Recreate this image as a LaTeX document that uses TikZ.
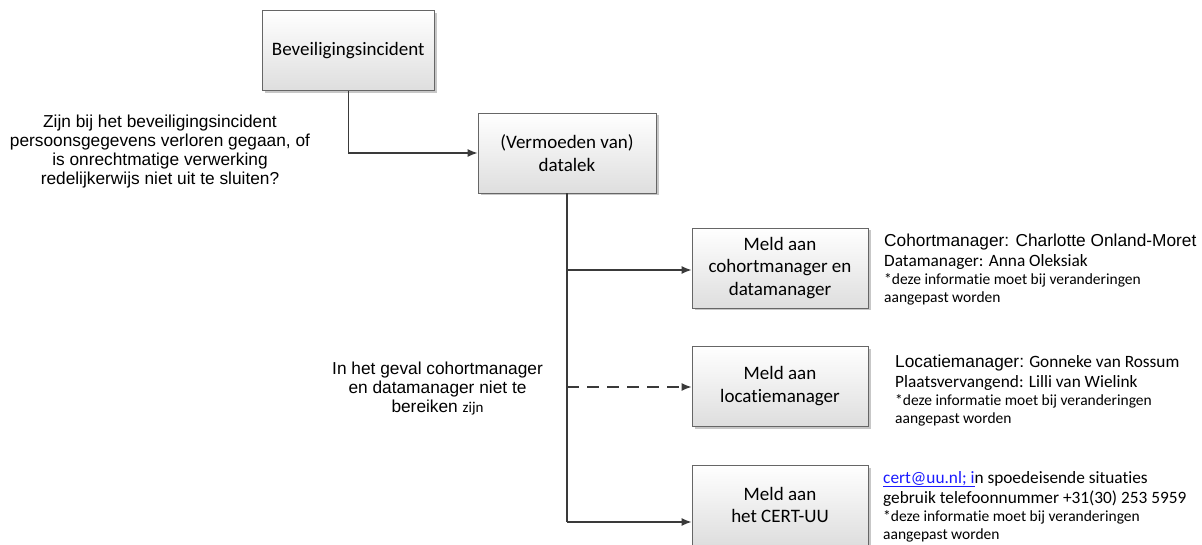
\documentclass[tikz,border=0pt]{standalone}
\usepackage{fontspec}
\setmainfont{Carlito}[Ligatures={NoCommon}]
\newfontfamily\arial{Liberation Sans}
\usetikzlibrary{shadows,arrows.meta}
\definecolor{boxline}{HTML}{666666}
\definecolor{boxbot}{HTML}{DEDEDE}
\definecolor{linkblue}{HTML}{1A1AFF}
\definecolor{connc}{HTML}{3A3A3A}
\tikzset{
  stepbox/.style={draw=boxline, line width=0.9pt, top color=white, bottom color=boxbot,
    drop shadow={shadow xshift=2.5pt, shadow yshift=-2.5pt, opacity=0.22, fill=black},
    align=center, inner sep=2pt, font=\fontsize{19}{22.5}\selectfont},
  conn/.style={draw=connc, line width=1.3pt, -{Latex[length=10pt,width=8pt]}},
  plain/.style={draw=connc, line width=1.3pt},
  qline/.style={anchor=base, inner sep=0pt, font=\arial\fontsize{17.3}{19}\selectfont},
  iline/.style={anchor=base west, inner sep=0pt, font=\fontsize{17.3}{19}\selectfont},
  sline/.style={anchor=base west, inner sep=0pt, font=\fontsize{15.5}{19}\selectfont},
}
\begin{document}
\begin{tikzpicture}[x=1pt,y=-1pt]
\useasboundingbox (0,0) rectangle (1202,545);
\node[stepbox, minimum width=172pt, minimum height=80pt] (b1) at (348.3,50.5) {Beveiligingsincident};
\node[stepbox, minimum width=178pt, minimum height=80pt] (b2) at (567,153) {(Vermoeden van)\\datalek};
\node[stepbox, minimum width=176pt, minimum height=80pt] (b3) at (780,268) {Meld aan\\cohortmanager en\\datamanager};
\node[stepbox, minimum width=176pt, minimum height=80pt] (b4) at (780,386) {Meld aan\\locatiemanager};
\node[stepbox, minimum width=176pt, minimum height=80pt] (b5) at (780,505) {Meld aan\\het CERT-UU};

\coordinate (j1) at (567,270);
\coordinate (j2) at (567,387);
\coordinate (j3) at (567,522);
\coordinate (e5) at (b5.west |- j3);

\draw[conn] (b1.south) |- (b2.west);
\draw[plain] (b2.south) -- (j3);
\draw[conn] (j1) -- (j1 -| b3.west);
\draw[conn, dash pattern=on 12pt off 8pt] (j2) -- (j2 -| b4.west);
\draw[conn] (j3) -- (e5);

\node[qline] (q1a) at (160,127.3) {Zijn bij het beveiligingsincident};
\node[qline] (q1b) at (160,146.5) {persoonsgegevens verloren gegaan, of};
\node[qline] (q1c) at (160,165.7) {is onrechtmatige verwerking};
\node[qline] (q1d) at (160,185) {redelijkerwijs niet uit te sluiten?};

\node[qline] (q2a) at (437.5,374.5) {In het geval cohortmanager};
\node[qline] (q2b) at (437.5,393.5) {en datamanager niet te};
\node[qline] (q2c) at (437.5,412.5) {bereiken {\rmfamily\fontsize{15}{19}\selectfont zijn}};

\node[iline] (c1) at (884,247) {\arial Cohortmanager: Charlotte Onland-Moret};
\node[iline] (c2) at (884,267) {Datamanager: Anna Oleksiak};
\node[sline] (c3) at (884,285) {*deze informatie moet bij veranderingen};
\node[sline] (c4) at (884,303) {aangepast worden};

\node[iline] (l1) at (895,367) {{\arial Locatiemanager:} Gonneke van Rossum};
\node[iline] (l2) at (895,387) {Plaatsvervangend: Lilli van Wielink};
\node[sline] (l3) at (895,405) {*deze informatie moet bij veranderingen};
\node[sline] (l4) at (895,423) {aangepast worden};

\node[iline] (r1) at (883,483) {{\color{linkblue}\underline{cert@uu.nl; i}}n spoedeisende situaties};
\node[iline] (r2) at (883,503) {gebruik telefoonnummer +31(30) 253 5959};
\node[sline] (r3) at (883,521) {*deze informatie moet bij veranderingen};
\node[sline] (r4) at (883,539) {aangepast worden};
\end{tikzpicture}
\end{document}
